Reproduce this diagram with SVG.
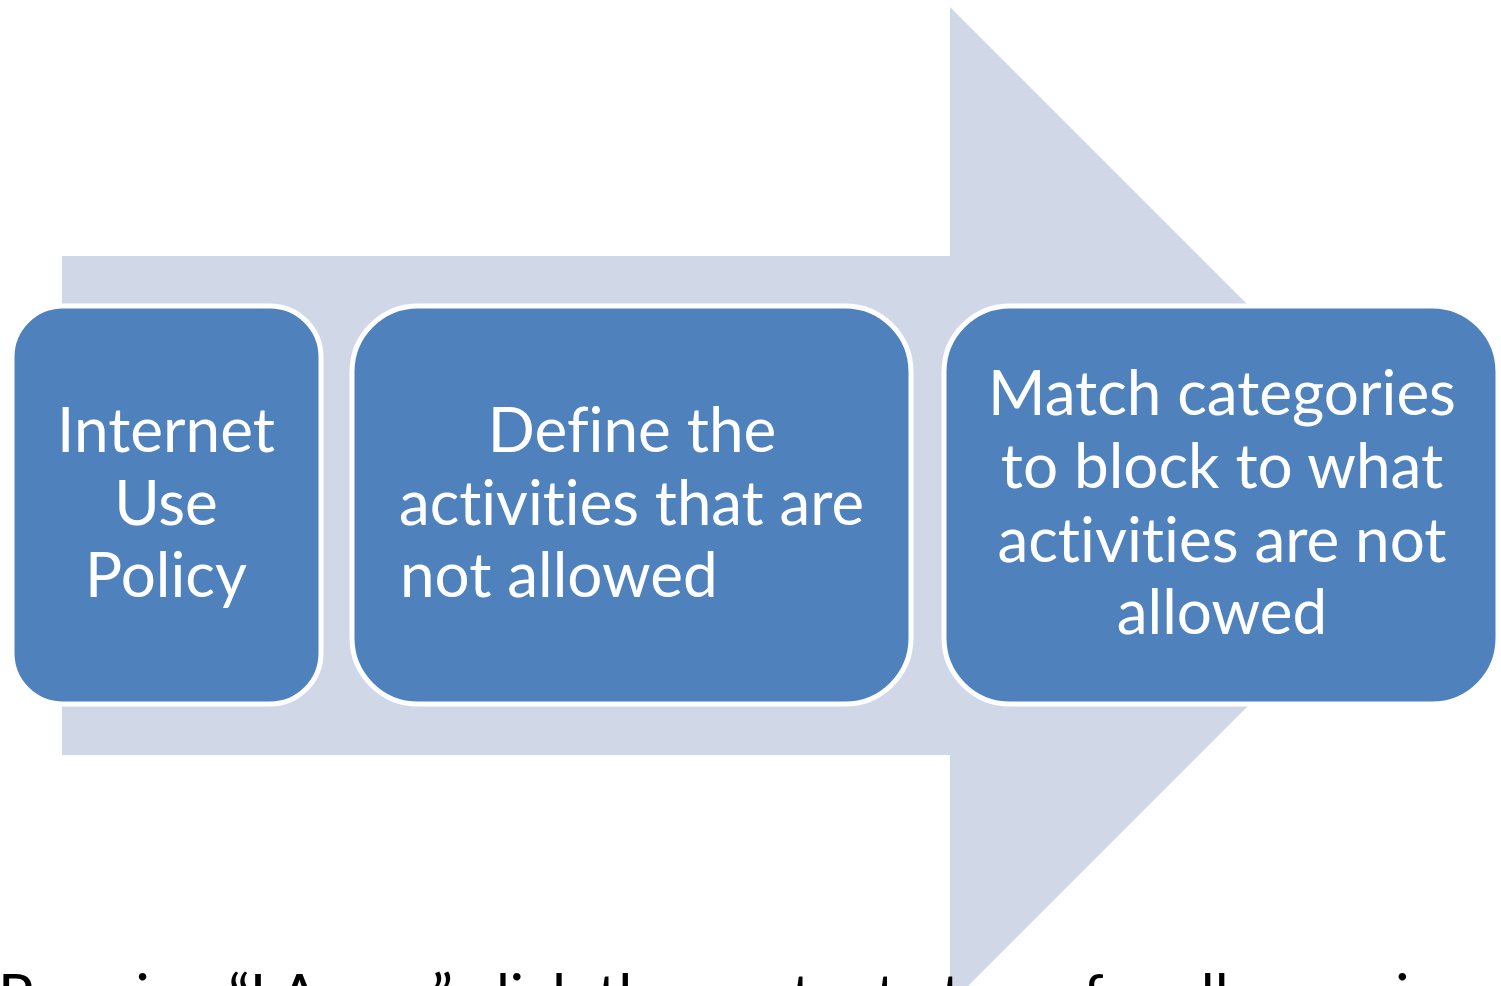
<svg xmlns="http://www.w3.org/2000/svg" width="1501" height="986" viewBox="0 0 1501 986">
<style>
.box{fill:#4F81BD;stroke:#FFFFFF;stroke-width:5}
.t{font-family:Lato,"Open Sans","Liberation Sans",sans-serif;font-size:62px;fill:#FFFFFF;font-variant-ligatures:none}
.c{text-anchor:middle}
.b{font-family:Lato,"Open Sans","Liberation Sans",sans-serif;font-size:59px;fill:#000000;font-variant-ligatures:none}
</style>
<rect width="1501" height="986" fill="#FFFFFF"/>
<g id="connectors">
<polygon id="arrow" points="62,256 950,256 950,7 1448.5,505.5 950,1004 950,755 62,755" fill="#D0D8E8"/>
</g>
<g id="node1">
<rect class="box" x="12" y="306" width="309" height="398" rx="51" ry="51"/>
<text class="t c" x="166" y="452">Internet</text>
<text class="t c" x="166" y="525">Use</text>
<text class="t c" x="166" y="597">Policy</text>
</g>
<g id="node2">
<rect class="box" x="352" y="306" width="559" height="398" rx="66" ry="66"/>
<text class="t c" x="632" y="452">Define the</text>
<text class="t" x="399" y="525" textLength="465" lengthAdjust="spacingAndGlyphs">activities that are</text>
<text class="t" x="400" y="597">not allowed</text>
</g>
<g id="node3">
<rect class="box" x="944" y="306" width="554" height="398" rx="66" ry="66"/>
<text class="t c" x="1222" y="415">Match categories</text>
<text class="t c" x="1222" y="488">to block to what</text>
<text class="t c" x="1222" y="562">activities are not</text>
<text class="t c" x="1222" y="634">allowed</text>
</g>
<text class="b" x="-2" y="1016">Pressing “I Agree” click the content at any for all users in</text>
</svg>
